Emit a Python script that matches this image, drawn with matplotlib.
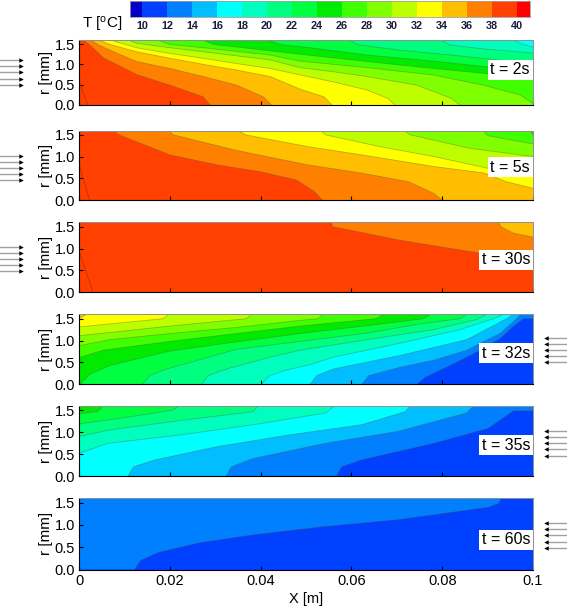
import matplotlib
matplotlib.use('Agg')
from matplotlib import pyplot as plt

plt.rcParams['font.family'] = ['Liberation Sans', 'DejaVu Sans']

# colour of each temperature band, coldest first: <10, 10-12, ... 38-40, >40
band_colors = ['#0000c8', '#0040ff', '#0080ff', '#00beff', '#00ffff', '#00ffbe', '#00ff80', '#00ff40',
               '#00eb00', '#40ff00', '#80ff00', '#beff00', '#ffff00', '#ffbe00', '#ff8000', '#ff4000', '#ff0000']
cbar_levels = [10, 12, 14, 16, 18, 20, 22, 24, 26, 28, 30, 32, 34, 36, 38, 40]

# contour lines: x in m, r in mm
t2_levels = [18, 20, 22, 24, 26, 28, 30, 32, 34, 36, 38]
t2_x = [[0.1, 0.0971, 0.0957],
        [0.1, 0.089, 0.0817, 0.0796],
        [0.1, 0.0854, 0.0707, 0.0615, 0.0595],
        [0.1, 0.0898, 0.0781, 0.0634, 0.0509, 0.0443, 0.0415],
        [0.1, 0.0928, 0.0781, 0.0634, 0.0487, 0.0384, 0.0296, 0.0272],
        [0.1, 0.0971, 0.089, 0.078, 0.0634, 0.0487, 0.0421, 0.0274, 0.02, 0.0172],
        [0.0839, 0.0821, 0.0744, 0.0634, 0.056, 0.0487, 0.0421, 0.0347, 0.0274, 0.02, 0.0127, 0.0108],
        [0.0696, 0.0681, 0.0634, 0.056, 0.0487, 0.0421, 0.0347, 0.0274, 0.02, 0.0127, 0.0069],
        [0.0557, 0.054, 0.0487, 0.0421, 0.0347, 0.0274, 0.02, 0.0127, 0.0068, 0.0043],
        [0.0424, 0.0406, 0.0347, 0.0274, 0.02, 0.0127, 0.0076, 0.0043, 0.0026],
        [0.0289, 0.0274, 0.02, 0.0127, 0.0054, 0.0024, 0.001]]
t2_r = [[1.42, 1.52, 1.6],
        [1.28, 1.38, 1.48, 1.6],
        [1.02, 1.19, 1.35, 1.48, 1.6],
        [0.85, 0.94, 1.08, 1.23, 1.41, 1.49, 1.6],
        [0.66, 0.74, 0.9, 1.07, 1.25, 1.38, 1.49, 1.6],
        [0.04, 0.25, 0.49, 0.74, 0.92, 1.08, 1.23, 1.41, 1.49, 1.6],
        [0, 0.16, 0.49, 0.7, 0.82, 0.92, 1.11, 1.21, 1.31, 1.41, 1.52, 1.6],
        [0, 0.16, 0.37, 0.57, 0.74, 0.9, 1.02, 1.15, 1.27, 1.41, 1.6],
        [0, 0.2, 0.39, 0.7, 0.86, 1.0, 1.15, 1.31, 1.49, 1.6],
        [0, 0.2, 0.49, 0.7, 0.9, 1.07, 1.31, 1.48, 1.6],
        [0, 0.2, 0.49, 0.75, 1.16, 1.48, 1.6]]

t5_levels = [26, 28, 30, 32, 34, 36, 38]
t5_x = [[0.1, 0.0993],
        [0.1, 0.0901, 0.0889],
        [0.1, 0.0861, 0.073, 0.0716],
        [0.1, 0.0901, 0.0782, 0.0662, 0.0543, 0.0533],
        [0.1, 0.0941, 0.0893, 0.0782, 0.0622, 0.0503, 0.0367, 0.0351],
        [0.0799, 0.0782, 0.0726, 0.0622, 0.0503, 0.0343, 0.0208, 0.0196],
        [0.0536, 0.0519, 0.0479, 0.04, 0.0304, 0.02, 0.0088, 0.0076]]
t5_r = [[1.5, 1.6],
        [1.29, 1.48, 1.6],
        [1.0, 1.19, 1.5, 1.6],
        [0.54, 0.73, 1.0, 1.23, 1.5, 1.6],
        [0.27, 0.42, 0.62, 0.77, 1.04, 1.23, 1.5, 1.6],
        [0, 0.15, 0.42, 0.62, 0.81, 1.15, 1.5, 1.6],
        [0, 0.19, 0.46, 0.65, 0.81, 1.04, 1.5, 1.6]]

t30_levels = [36, 38]
t30_x = [[0.1, 0.0957, 0.0929, 0.0924],
         [0.1, 0.0885, 0.0702, 0.0559, 0.0555]]
t30_r = [[1.26, 1.35, 1.5, 1.6],
         [0.75, 0.89, 1.2, 1.5, 1.6]]

t32_levels = [12, 14, 16, 18, 20, 22, 24, 26, 28, 30, 32, 34]
t32_x = [[0.0744, 0.0762, 0.0817, 0.0876, 0.0928, 0.0957, 0.0979, 0.1, 0.1],
         [0.0623, 0.0638, 0.0707, 0.0781, 0.0854, 0.0928, 0.0964, 0.0972],
         [0.0509, 0.0524, 0.056, 0.0707, 0.0854, 0.0942, 0.0957],
         [0.0402, 0.042, 0.0455, 0.0509, 0.056, 0.0707, 0.0839, 0.0913, 0.0935],
         [0.027, 0.0285, 0.0325, 0.0421, 0.0487, 0.0634, 0.0781, 0.0876, 0.0898],
         [0.014, 0.0156, 0.0193, 0.0347, 0.0487, 0.0634, 0.0744, 0.0839, 0.0854],
         [0.0002, 0.0024, 0.0068, 0.02, 0.0347, 0.0487, 0.0634, 0.0759, 0.0773],
         [0, 0.0054, 0.02, 0.0347, 0.0487, 0.0654, 0.0671],
         [0, 0.0068, 0.02, 0.0347, 0.0487, 0.0527, 0.0538],
         [0, 0.02, 0.0369, 0.038],
         [0, 0.0186, 0.0197],
         [0, 0.0005, 0.0017]]
t32_r = [[0, 0.16, 0.43, 0.74, 1.05, 1.33, 1.5, 1.5, 1.6],
         [0, 0.2, 0.39, 0.55, 0.78, 1.17, 1.5, 1.6],
         [0, 0.2, 0.35, 0.66, 1.02, 1.5, 1.6],
         [0, 0.2, 0.32, 0.45, 0.62, 0.94, 1.25, 1.5, 1.6],
         [0, 0.2, 0.35, 0.62, 0.78, 1.02, 1.25, 1.48, 1.6],
         [0, 0.2, 0.35, 0.8, 0.98, 1.17, 1.37, 1.5, 1.6],
         [0, 0.23, 0.43, 0.76, 0.97, 1.16, 1.34, 1.5, 1.6],
         [0.61, 0.78, 0.98, 1.16, 1.33, 1.5, 1.6],
         [0.88, 1.02, 1.16, 1.3, 1.46, 1.5, 1.6],
         [1.11, 1.33, 1.5, 1.6],
         [1.31, 1.5, 1.6],
         [1.5, 1.53, 1.6]]

t35_levels = [12, 14, 16, 18, 20, 22, 24]
t35_x = [[0.0567, 0.0578, 0.0622, 0.0782, 0.0901, 0.0957, 0.1, 0.1],
         [0.0324, 0.0335, 0.0383, 0.0543, 0.0702, 0.0853, 0.0869],
         [0.0108, 0.012, 0.0168, 0.0304, 0.0463, 0.0622, 0.0718, 0.073],
         [0, 0.0065, 0.0224, 0.0383, 0.0543, 0.0563],
         [0, 0.0065, 0.0224, 0.0383, 0.0395],
         [0, 0.0104, 0.0208, 0.022],
         [0, 0.0041, 0.0053]]
t35_r = [[0, 0.21, 0.37, 0.75, 1.09, 1.49, 1.49, 1.6],
         [0, 0.21, 0.4, 0.75, 1.02, 1.44, 1.6],
         [0, 0.21, 0.37, 0.67, 0.94, 1.17, 1.47, 1.6],
         [0.52, 0.75, 0.94, 1.17, 1.44, 1.6],
         [0.9, 1.05, 1.27, 1.47, 1.6],
         [1.19, 1.34, 1.51, 1.6],
         [1.42, 1.47, 1.6]]

t60_levels = [12]
t60_x = [[0.0122, 0.0136, 0.0176, 0.0264, 0.0383, 0.0543, 0.0702, 0.0901, 0.0925, 0.0929]]
t60_r = [[0, 0.21, 0.39, 0.6, 0.78, 0.97, 1.12, 1.4, 1.49, 1.6]]

# the faint line near the inlet in the first three panels
inlet_x = [[0.0002, 0.0019], [0.0002, 0.0023], [0.0002, 0.0031]]
inlet_r = [[0.54, 0], [0.77, 0], [0.89, 0]]

panel_names = ['t = 2s', 't = 5s', 't = 30s', 't = 32s', 't = 35s', 't = 60s']
panel_levels = [t2_levels, t5_levels, t30_levels, t32_levels, t35_levels, t60_levels]
panel_x = [t2_x, t5_x, t30_x, t32_x, t35_x, t60_x]
panel_r = [t2_r, t5_r, t30_r, t32_r, t35_r, t60_r]

W, H = 567, 606
LEFT, RIGHT = 79, 533
panel_top = [40, 130.5, 222.3, 314.3, 406, 498.3]
panel_bottom = [105, 200, 292.3, 384.3, 476, 569.5]
box_y = [70, 167, 260, 353, 445, 540]
arrow_y = [[60, 66, 72, 79, 85], [156, 162, 168, 174, 180], [247, 253, 259, 265, 271],
           [338, 344, 350, 356, 362], [431, 437, 443, 449, 456], [523, 529, 535, 542, 548]]


def band_color(level):
    return band_colors[(level - 10) // 2 + 1]


def draw_panel(ax, levels, xs, rs):
    # painted from the cold side, each level covers everything hotter than itself
    ax.set_facecolor(band_color(levels[0] - 2))
    for level, x, r in zip(levels, xs, rs):
        ax.fill(x + [0, 0, x[0]], r + [1.6, 0, 0], color=band_color(level), lw=0, zorder=1)
    for x, r in zip(xs, rs):
        ax.plot(x, r, color='#5a5a3c', lw=0.6, alpha=0.4, zorder=2)


fig = plt.figure(figsize=(W / 100, H / 100), dpi=100)

for i in range(6):
    ax = fig.add_axes([LEFT / W, 1 - panel_bottom[i] / H, (RIGHT - LEFT) / W, (panel_bottom[i] - panel_top[i]) / H])
    draw_panel(ax, panel_levels[i], panel_x[i], panel_r[i])
    if i < 3:
        ax.plot(inlet_x[i], inlet_r[i], color='#b03000', lw=0.5, zorder=2)
    ax.set_xlim(0, 0.1)
    ax.set_ylim(0, 1.6)
    ax.set_yticks([0, 0.5, 1.0, 1.5])
    ax.set_yticklabels(['0.0', '0.5', '1.0', '1.5'])
    ax.set_xticks([0, 0.02, 0.04, 0.06, 0.08, 0.1])
    ax.tick_params(direction='in', length=3, width=0.8, labelsize=10.5, pad=3, zorder=3)
    ax.set_ylabel('r [mm]', fontsize=11)
    ax.yaxis.set_label_coords((53 - LEFT) / (RIGHT - LEFT), 0.5)
    for side in ['top', 'right']:
        ax.spines[side].set_color('#909090')
        ax.spines[side].set_linewidth(0.7)
    for side in ['left', 'bottom']:
        ax.spines[side].set_linewidth(0.8)
    if i == 5:
        ax.set_xticklabels(['0', '0.02', '0.04', '0.06', '0.08', '0.1'])
        ax.set_xlabel('X [m]', fontsize=10.5, labelpad=3)
    else:
        ax.set_xticklabels([])

# colour bar along the top
cax = fig.add_axes([129.5 / W, 1 - 16.5 / H, (530 - 129.5) / W, 15.5 / H])
edges = [9] + cbar_levels + [41.06]
cax.pcolormesh(edges, [0, 1], [list(range(len(band_colors)))],
               cmap=matplotlib.colors.ListedColormap(band_colors), edgecolors='none')
cax.set_xlim(edges[0], edges[-1])
cax.set_yticks([])
cax.set_xticks(cbar_levels)
cax.tick_params(length=0, labelsize=7.8, pad=3, labelcolor='#1a1a3c')
for lab in cax.get_xticklabels():
    lab.set_fontweight('bold')
for spine in cax.spines.values():
    spine.set_color('#a0a0a0')
    spine.set_linewidth(0.6)
fig.text(122 / W, 1 - 24 / H, 'T [$\\mathregular{^o}$C]', fontsize=11, ha='right', va='center')

# pixel overlay for the flow arrows and the time labels
over = fig.add_axes([0, 0, 1, 1], zorder=5)
over.set_xlim(0, W)
over.set_ylim(H, 0)
over.axis('off')
for i in range(6):
    for y in arrow_y[i]:
        if i < 3:
            over.plot([0, 21], [y, y], color='#a0a0a0', lw=1)
            over.plot([21], [y], marker='>', ms=3.2, color='black', mew=0)
        else:
            over.plot([566, 546], [y, y], color='#a0a0a0', lw=1)
            over.plot([546], [y], marker='<', ms=3.2, color='black', mew=0)
    over.text(530, box_y[i], panel_names[i], fontsize=11.5, ha='right', va='center',
              bbox=dict(facecolor='white', edgecolor='none', pad=2))

fig.savefig('out.png', dpi=100)
